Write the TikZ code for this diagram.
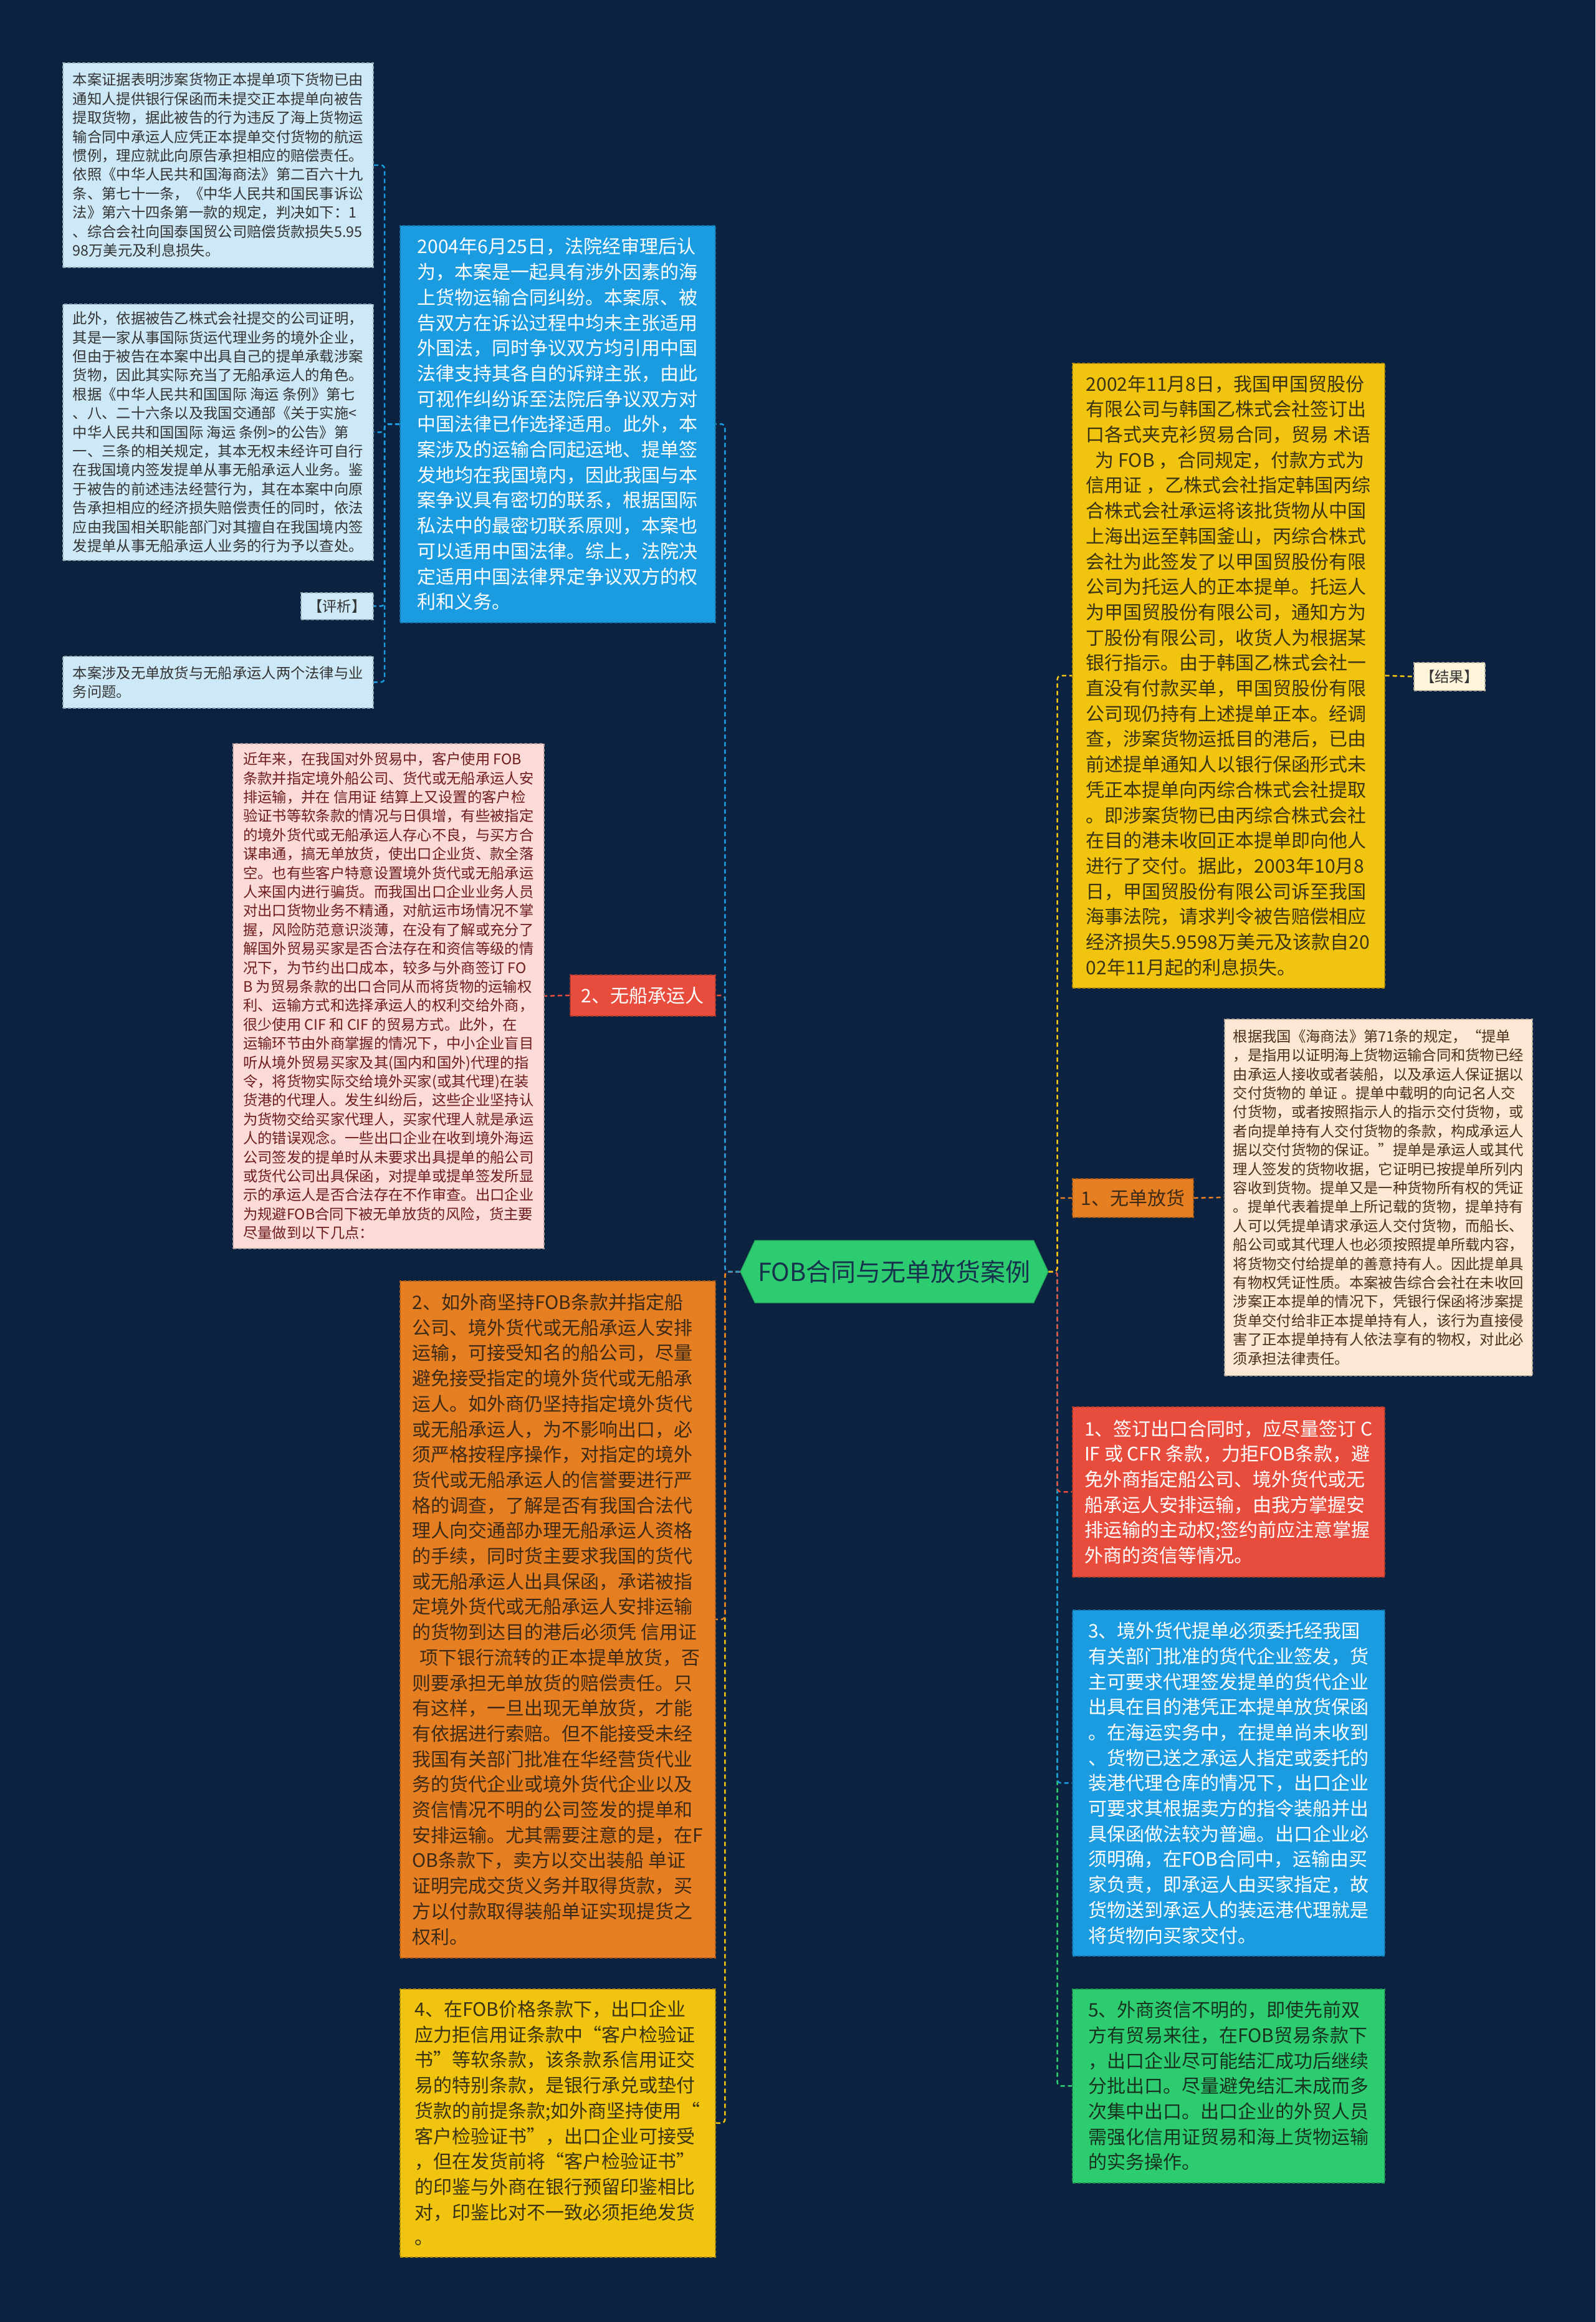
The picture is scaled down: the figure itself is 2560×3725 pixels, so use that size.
\documentclass[tikz,border=0pt]{standalone}
\usepackage{fontspec}
\setmainfont{Noto Sans CJK SC}
\usetikzlibrary{shapes.symbols}
\definecolor{bgc}{HTML}{0B2341}
\definecolor{lblue}{HTML}{CDE9F7}
\definecolor{cblue}{HTML}{1B9CE0}
\definecolor{cred}{HTML}{E74C3C}
\definecolor{corange}{HTML}{E67E22}
\definecolor{cyellow}{HTML}{F1C40F}
\definecolor{cgreen}{HTML}{2ECC71}
\definecolor{cpink}{HTML}{FADBD8}
\definecolor{cbeige}{HTML}{FDE8D6}
\definecolor{ccream}{HTML}{FEF4DA}
\definecolor{tdark}{HTML}{333333}
\definecolor{tbrown}{HTML}{3D2A17}
\definecolor{tyel}{HTML}{3A3314}
\definecolor{tgreen}{HTML}{17331F}
\definecolor{tpink}{HTML}{6E1C1C}
\definecolor{tbeige}{HTML}{4A2F1A}
\definecolor{tcenter}{HTML}{17324D}
\tikzset{
  card/.style={anchor=north west, align=left, inner sep=0pt,
    fill=#1, draw=#1!72!black, dash pattern=on 5pt off 3pt, line width=1.6pt},
  bigtxt/.style={font=\fontsize{30}{40.7}\selectfont},
  smalltxt/.style={font=\fontsize{23.3}{30.4}\selectfont},
  conn/.style={draw=#1, dash pattern=on 7pt off 5pt, line width=2.5pt, rounded corners=6pt},
}
\begin{document}
\begin{tikzpicture}[x=1pt,y=-1pt]
\useasboundingbox (0,0) rectangle (2560,3725);
\fill[bgc] (0,0) rectangle (2560,3725);

% centre
\node[shape=signal, signal to=east and west, signal pointer angle=130,
  fill=cgreen, draw=cgreen!80!black, line width=1.2pt, inner sep=4pt,
  minimum width=494pt, minimum height=100pt, text=tcenter,
  font=\fontsize{40}{44}\selectfont] (c) at (1435,2040) {FOB合同与无单放货案例};

% ---------- left side ----------
\node[card=cblue, bigtxt, text=white, minimum width=506pt, minimum height=637pt] (bl) at (641,361) {%
2004年6月25日，法院经审理后认\\
为，本案是一起具有涉外因素的海\\
上货物运输合同纠纷。本案原、被\\
告双方在诉讼过程中均未主张适用\\
外国法，同时争议双方均引用中国\\
法律支持其各自的诉辩主张，由此\\
可视作纠纷诉至法院后争议双方对\\
中国法律已作选择适用。此外，本\\
案涉及的运输合同起运地、提单签\\
发地均在我国境内，因此我国与本\\
案争议具有密切的联系，根据国际\\
私法中的最密切联系原则，本案也\\
可以适用中国法律。综上，法院决\\
定适用中国法律界定争议双方的权\\
利和义务。};

\node[card=lblue, smalltxt, text=tdark, minimum width=498pt, minimum height=328pt] (la) at (100,100) {%
本案证据表明涉案货物正本提单项下货物已由\\
通知人提供银行保函而未提交正本提单向被告\\
提取货物，据此被告的行为违反了海上货物运\\
输合同中承运人应凭正本提单交付货物的航运\\
惯例，理应就此向原告承担相应的赔偿责任。\\
依照《中华人民共和国海商法》第二百六十九\\
条、第七十一条，《中华人民共和国民事诉讼\\
法》第六十四条第一款的规定，判决如下：1\\
、综合会社向国泰国贸公司赔偿货款损失5.95\\
98万美元及利息损失。};

\node[card=lblue, smalltxt, text=tdark, minimum width=498pt, minimum height=411pt] (lb) at (100,487) {%
此外，依据被告乙株式会社提交的公司证明，\\
其是一家从事国际货运代理业务的境外企业，\\
但由于被告在本案中出具自己的提单承载涉案\\
货物，因此其实际充当了无船承运人的角色。\\
根据《中华人民共和国国际 海运 条例》第七\\
、八、二十六条以及我国交通部《关于实施<\\
中华人民共和国国际 海运 条例>的公告》第\\
一、三条的相关规定，其本无权未经许可自行\\
在我国境内签发提单从事无船承运人业务。鉴\\
于被告的前述违法经营行为，其在本案中向原\\
告承担相应的经济损失赔偿责任的同时，依法\\
应由我国相关职能部门对其擅自在我国境内签\\
发提单从事无船承运人业务的行为予以查处。};

\node[card=lblue, smalltxt, text=tdark, minimum width=116pt, minimum height=43pt] (pj) at (482,950) {【评析】};

\node[card=lblue, smalltxt, text=tdark, minimum width=498pt, minimum height=83pt] (ld) at (100,1052) {%
本案涉及无单放货与无船承运人两个法律与业\\
务问题。};

\node[card=cred, text=white, font=\fontsize{30}{34}\selectfont, minimum width=233pt, minimum height=66pt] (l2) at (914,1563) {2、无船承运人};

\node[card=cpink, smalltxt, text=tpink, minimum width=499pt, minimum height=810pt] (pk) at (373,1192) {%
近年来，在我国对外贸易中，客户使用 FOB\\
条款并指定境外船公司、货代或无船承运人安\\
排运输，并在 信用证 结算上又设置的客户检\\
验证书等软条款的情况与日俱增，有些被指定\\
的境外货代或无船承运人存心不良，与买方合\\
谋串通，搞无单放货，使出口企业货、款全落\\
空。也有些客户特意设置境外货代或无船承运\\
人来国内进行骗货。而我国出口企业业务人员\\
对出口货物业务不精通，对航运市场情况不掌\\
握，风险防范意识淡薄，在没有了解或充分了\\
解国外贸易买家是否合法存在和资信等级的情\\
况下，为节约出口成本，较多与外商签订 FO\\
B 为贸易条款的出口合同从而将货物的运输权\\
利、运输方式和选择承运人的权利交给外商，\\
很少使用 CIF 和 CIF 的贸易方式。此外，在\\
运输环节由外商掌握的情况下，中小企业盲目\\
听从境外贸易买家及其(国内和国外)代理的指\\
令，将货物实际交给境外买家(或其代理)在装\\
货港的代理人。发生纠纷后，这些企业坚持认\\
为货物交给买家代理人，买家代理人就是承运\\
人的错误观念。一些出口企业在收到境外海运\\
公司签发的提单时从未要求出具提单的船公司\\
或货代公司出具保函，对提单或提单签发所显\\
示的承运人是否合法存在不作审查。出口企业\\
为规避FOB合同下被无单放货的风险，货主要\\
尽量做到以下几点：};

\node[card=corange, bigtxt, text=tbrown, minimum width=506pt, minimum height=1086pt] (or) at (641,2054) {%
2、如外商坚持FOB条款并指定船\\
公司、境外货代或无船承运人安排\\
运输，可接受知名的船公司，尽量\\
避免接受指定的境外货代或无船承\\
运人。如外商仍坚持指定境外货代\\
或无船承运人，为不影响出口，必\\
须严格按程序操作，对指定的境外\\
货代或无船承运人的信誉要进行严\\
格的调查，了解是否有我国合法代\\
理人向交通部办理无船承运人资格\\
的手续，同时货主要求我国的货代\\
或无船承运人出具保函，承诺被指\\
定境外货代或无船承运人安排运输\\
的货物到达目的港后必须凭 信用证\\
\hspace*{0.4em}项下银行流转的正本提单放货，否\\
则要承担无单放货的赔偿责任。只\\
有这样，一旦出现无单放货，才能\\
有依据进行索赔。但不能接受未经\\
我国有关部门批准在华经营货代业\\
务的货代企业或境外货代企业以及\\
资信情况不明的公司签发的提单和\\
安排运输。尤其需要注意的是，在F\\
OB条款下，卖方以交出装船 单证\\
证明完成交货义务并取得货款，买\\
方以付款取得装船单证实现提货之\\
权利。};

\node[card=cyellow, bigtxt, text=tyel, minimum width=506pt, minimum height=430pt] (yb) at (641,3190) {%
4、在FOB价格条款下，出口企业\\
应力拒信用证条款中“客户检验证\\
书”等软条款，该条款系信用证交\\
易的特别条款，是银行承兑或垫付\\
货款的前提条款;如外商坚持使用“\\
客户检验证书”，出口企业可接受\\
，但在发货前将“客户检验证书”\\
的印鉴与外商在银行预留印鉴相比\\
对，印鉴比对不一致必须拒绝发货\\
。};

% ---------- right side ----------
\node[card=cyellow, bigtxt, text=tyel, minimum width=501pt, minimum height=1002pt] (yr) at (1720,582) {%
2002年11月8日，我国甲国贸股份\\
有限公司与韩国乙株式会社签订出\\
口各式夹克衫贸易合同，贸易 术语\\
\hspace*{0.5em}为 FOB ，合同规定，付款方式为\\
信用证 ，乙株式会社指定韩国丙综\\
合株式会社承运将该批货物从中国\\
上海出运至韩国釜山，丙综合株式\\
会社为此签发了以甲国贸股份有限\\
公司为托运人的正本提单。托运人\\
为甲国贸股份有限公司，通知方为\\
丁股份有限公司，收货人为根据某\\
银行指示。由于韩国乙株式会社一\\
直没有付款买单，甲国贸股份有限\\
公司现仍持有上述提单正本。经调\\
查，涉案货物运抵目的港后，已由\\
前述提单通知人以银行保函形式未\\
凭正本提单向丙综合株式会社提取\\
。即涉案货物已由丙综合株式会社\\
在目的港未收回正本提单即向他人\\
进行了交付。据此，2003年10月8\\
日，甲国贸股份有限公司诉至我国\\
海事法院，请求判令被告赔偿相应\\
经济损失5.9598万美元及该款自20\\
02年11月起的利息损失。};

\node[card=ccream, smalltxt, text=tdark, minimum width=114pt, minimum height=45pt] (jg) at (2268,1062) {【结果】};

\node[card=corange, text=tbrown, font=\fontsize{30}{34}\selectfont, minimum width=194pt, minimum height=62pt] (l1) at (1720,1890) {1、无单放货};

\node[card=cbeige, smalltxt, text=tbeige, minimum width=494pt, minimum height=572pt] (bg) at (1964,1634) {%
根据我国《海商法》第71条的规定，“提单\\
，是指用以证明海上货物运输合同和货物已经\\
由承运人接收或者装船，以及承运人保证据以\\
交付货物的 单证 。提单中载明的向记名人交\\
付货物，或者按照指示人的指示交付货物，或\\
者向提单持有人交付货物的条款，构成承运人\\
据以交付货物的保证。”提单是承运人或其代\\
理人签发的货物收据，它证明已按提单所列内\\
容收到货物。提单又是一种货物所有权的凭证\\
。提单代表着提单上所记载的货物，提单持有\\
人可以凭提单请求承运人交付货物，而船长、\\
船公司或其代理人也必须按照提单所载内容，\\
将货物交付给提单的善意持有人。因此提单具\\
有物权凭证性质。本案被告综合会社在未收回\\
涉案正本提单的情况下，凭银行保函将涉案提\\
货单交付给非正本提单持有人，该行为直接侵\\
害了正本提单持有人依法享有的物权，对此必\\
须承担法律责任。};

\node[card=cred, bigtxt, text=white, minimum width=501pt, minimum height=273pt] (rr) at (1720,2256) {%
1、签订出口合同时，应尽量签订 C\\
IF 或 CFR 条款，力拒FOB条款，避\\
免外商指定船公司、境外货代或无\\
船承运人安排运输，由我方掌握安\\
排运输的主动权;签约前应注意掌握\\
外商的资信等情况。};

\node[card=cblue, bigtxt, text=white, minimum width=501pt, minimum height=555pt] (br) at (1720,2582) {%
3、境外货代提单必须委托经我国\\
有关部门批准的货代企业签发，货\\
主可要求代理签发提单的货代企业\\
出具在目的港凭正本提单放货保函\\
。在海运实务中，在提单尚未收到\\
、货物已送之承运人指定或委托的\\
装港代理仓库的情况下，出口企业\\
可要求其根据卖方的指令装船并出\\
具保函做法较为普遍。出口企业必\\
须明确，在FOB合同中，运输由买\\
家负责，即承运人由买家指定，故\\
货物送到承运人的装运港代理就是\\
将货物向买家交付。};

\node[card=cgreen, bigtxt, text=tgreen, minimum width=501pt, minimum height=311pt] (gr) at (1720,3190) {%
5、外商资信不明的，即使先前双\\
方有贸易来往，在FOB贸易条款下\\
，出口企业尽可能结汇成功后继续\\
分批出口。尽量避免结汇未成而多\\
次集中出口。出口企业的外贸人员\\
需强化信用证贸易和海上货物运输\\
的实务操作。};

% ---------- connectors ----------
\draw[conn=cyellow] (c.west) -- ++(-24,0) |- (yb.east);
\draw[conn=corange] (c.west) -- ++(-24,0) |- (or.east);
\draw[conn=cred] (c.west) -- ++(-24,0) |- (l2.east);
\draw[conn=cblue] (c.west) -- ++(-24,0) |- (bl.east);

\draw[conn=cgreen] (c.east) -- ++(14,0) |- (gr.west);
\draw[conn=cblue] (c.east) -- ++(14,0) |- (br.west);
\draw[conn=cred] (c.east) -- ++(14,0) |- (rr.west);
\draw[conn=corange] (c.east) -- ++(14,0) |- (l1.west);
\draw[conn=cyellow] (c.east) -- ++(14,0) |- (yr.west);

\draw[conn=cblue] (bl.west) -- ++(-24,0) |- (la.east);
\draw[conn=cblue] (bl.west) -- ++(-24,0) |- (lb.east);
\draw[conn=cblue] (bl.west) -- ++(-24,0) |- (pj.east);
\draw[conn=cblue] (bl.west) -- ++(-24,0) |- (ld.east);

\draw[conn=cred] (l2.west) -- (pk.east);
\draw[conn=corange] (l1.east) -- (bg.west);
\draw[conn=cyellow] (yr.east) -- (jg.west);
\end{tikzpicture}
\end{document}
